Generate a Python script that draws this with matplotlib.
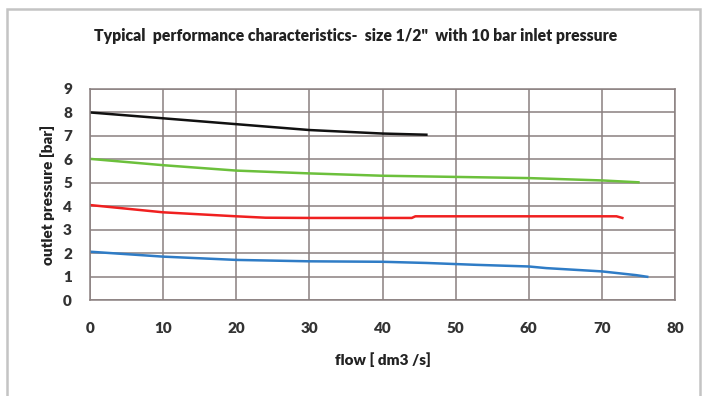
import matplotlib
matplotlib.use("Agg")
import matplotlib.pyplot as plt
from matplotlib.patches import Rectangle

title = 'Typical  performance characteristics-  size 1/2"  with 10 bar inlet pressure'
xlabel = "flow [ dm3 /s]"
ylabel = "outlet pressure [bar]"
x_ticks = [0, 10, 20, 30, 40, 50, 60, 70, 80]
y_ticks = [0, 1, 2, 3, 4, 5, 6, 7, 8, 9]

black_x = [0, 10, 20, 30, 40, 46]
black_y = [8.0, 7.75, 7.5, 7.25, 7.1, 7.05]

green_x = [0, 10, 20, 30, 40, 50, 60, 70, 75]
green_y = [6.02, 5.75, 5.52, 5.4, 5.3, 5.25, 5.2, 5.1, 5.02]

red_x = [0, 10, 20, 24, 30, 44, 44.5, 60, 72, 72.8]
red_y = [4.05, 3.74, 3.57, 3.51, 3.5, 3.5, 3.57, 3.57, 3.57, 3.5]

blue_x = [0, 10, 20, 30, 40, 46, 52.8, 60, 62.4, 70, 74.7, 76.2]
blue_y = [2.06, 1.85, 1.71, 1.65, 1.63, 1.58, 1.5, 1.43, 1.36, 1.22, 1.06, 0.99]

fig = plt.figure(figsize=(7.06, 3.96), dpi=100)
fig.patch.set_facecolor("white")
fig.patches.append(Rectangle((7 / 706, -0.05), 693 / 706, 1.05 - 9 / 396,
                             transform=fig.transFigure, fill=False,
                             edgecolor="#c4c4c4", linewidth=1.8))

ax = fig.add_axes([90 / 706, 1 - 300 / 396, 585 / 706, 211 / 396])
grid_c = "#8a8080"
fam = ["Lato", "DejaVu Sans"]

ax.plot(black_x, black_y, color="#111111", lw=1.8)
ax.plot(green_x, green_y, color="#6cc03c", lw=1.8)
ax.plot(red_x, red_y, color="#f02020", lw=1.8)
ax.plot(blue_x, blue_y, color="#2f7cc6", lw=1.8)

ax.set_xlim(0, 80)
ax.set_ylim(0, 9)
ax.set_xticks(x_ticks)
ax.set_yticks(y_ticks)
ax.grid(True, color=grid_c, lw=1.1)
ax.set_axisbelow(True)
for s in ax.spines.values():
    s.set_color(grid_c)
    s.set_linewidth(1.1)
ax.tick_params(length=0, pad=16, labelsize=11, labelcolor="#333333")
ax.tick_params(axis="y", pad=13)
for lab in ax.get_xticklabels() + ax.get_yticklabels():
    lab.set_fontweight("heavy")
    lab.set_family(fam)

ax.set_xlabel(xlabel, fontsize=11, fontweight="heavy", family=fam,
              color="#222222", labelpad=12)
ax.set_ylabel(ylabel, fontsize=11, fontweight="heavy", family=fam,
              color="#222222", labelpad=6)
fig.text(356 / 706, 1 - 36 / 396, title, ha="center", va="center",
         fontsize=11.3, fontweight="heavy", family=fam, color="#222222")

fig.savefig("out.png", dpi=100)
